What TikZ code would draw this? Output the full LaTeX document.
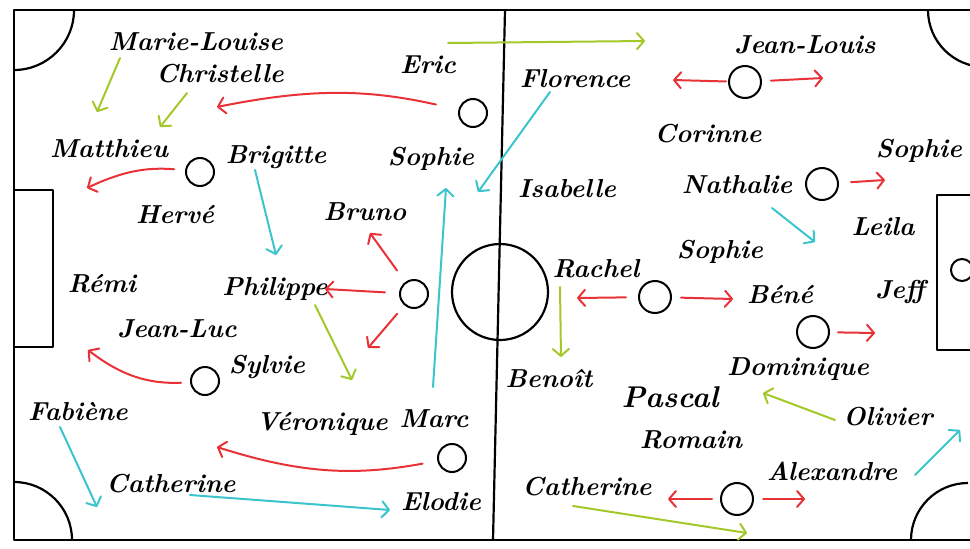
\documentclass[tikz,border=0pt]{standalone}
\usepackage{fontspec}
\usepackage{xcolor}
\usetikzlibrary{arrows.meta}

\definecolor{passred}{RGB}{232,50,56}
\definecolor{passgreen}{RGB}{163,200,42}
\definecolor{passcyan}{RGB}{58,196,204}

\begin{document}
\begin{tikzpicture}[
  x=1pt, y=-1pt,
  kid/.style={anchor=base, inner sep=0pt, font=\fontsize{26}{30}\selectfont\bfseries\itshape},
  player/.style={draw, circle, line width=2pt, minimum size=28pt, inner sep=0pt},
  bigplayer/.style={player, minimum size=32pt},
  pitch/.style={line width=2.2pt, line join=round},
  arr/.style={line width=2pt, line cap=round,
              -{Straight Barb[round, length=7pt, width=16pt]}},
  rarr/.style={arr, passred},
  garr/.style={arr, passgreen},
  carr/.style={arr, passcyan}
]
\useasboundingbox (0,0) rectangle (970,549);
\clip (0,0) rectangle (970,549);

\draw[pitch] (14,10) rectangle (995,540);
\draw[pitch] (505,10) -- (493,540);
\draw[pitch] (500,292) circle[radius=48];
\draw[pitch] (14,190) -- (53,190) -- (53,347) -- (14,347);
\draw[pitch] (995,195) -- (937,195) -- (937,350) -- (995,350);
\draw[pitch] (74,10) arc[start angle=0, end angle=90, radius=60];
\draw[pitch] (14,482) arc[start angle=-90, end angle=0, radius=58];
\draw[pitch] (928,10) arc[start angle=180, end angle=90, radius=57];
\draw[pitch] (911,540) arc[start angle=180, end angle=270, radius=57];

\node[kid] (marielouise) at (196,50) {Marie-Louise};
\node[kid] (christelle) at (220,82) {Christelle};
\node[kid] (eric) at (428,73) {Eric};
\node[kid] (matthieu) at (109,157) {Matthieu};
\node[kid] (brigitte) at (276,163) {Brigitte};
\node[kid] (sophie1) at (431,165) {Sophie};
\node[kid] (herve) at (175,223) {Hervé};
\node[kid] (bruno) at (365,220) {Bruno};
\node[kid] (remi) at (102,292) {Rémi};
\node[kid] (philippe) at (275,295) {Philippe};
\node[kid] (jeanluc) at (177,337) {Jean-Luc};
\node[kid] (sylvie) at (267,373) {Sylvie};
\node[kid] (fabiene) at (78,420) {Fabiène};
\node[kid] (veronique) at (322,430) {Véronique};
\node[kid] (marc) at (434,427) {Marc};
\node[kid] (catherine1) at (171,492) {Catherine};
\node[kid] (elodie) at (441,510) {Elodie};

\node[kid] (jeanlouis) at (805,53) {Jean-Louis};
\node[kid] (florence) at (575,87) {Florence};
\node[kid] (corinne) at (708,142) {Corinne};
\node[kid] (sophie2) at (919,157) {Sophie};
\node[kid] (isabelle) at (567,197) {Isabelle};
\node[kid] (nathalie) at (737,193) {Nathalie};
\node[kid] (leila) at (883,235) {Leila};
\node[kid] (sophie3) at (720,258) {Sophie};
\node[kid] (rachel) at (596,277) {Rachel};
\node[kid] (bene) at (780,303) {Béné};
\node[kid] (jeff) at (900,298) {Jeff};
\node[kid] (benoit) at (549,387) {Benoît};
\node[kid] (dominique) at (798,375) {Dominique};
\node[kid, font=\fontsize{30}{34}\selectfont\bfseries\itshape] (pascal) at (670,407) {Pascal};
\node[kid] (olivier) at (888,425) {Olivier};
\node[kid] (romain) at (691,448) {Romain};
\node[kid] (alexandre) at (832,480) {Alexandre};
\node[kid] (catherine2) at (587,495) {Catherine};

\node[player] (o-eric) at (473,113) {};
\node[player] (o-herve) at (200,172) {};
\node[player] (o-philippe) at (414,294) {};
\node[player] (o-sylvie) at (205,381) {};
\node[player] (o-marc) at (452,458) {};
\node[bigplayer] (o-jeanlouis) at (745,82) {};
\node[bigplayer] (o-nathalie) at (822,184) {};
\node[bigplayer] (o-rachel) at (655,297) {};
\node[bigplayer] (o-jeff) at (813,332) {};
\node[bigplayer] (o-alexandre) at (737,499) {};
\node[player, minimum size=22pt] (spot) at (962,270) {};

\coordinate (eric-end) at (217,107);
\coordinate (herve-end) at (87,188);
\coordinate (philippe-w) at (325,289);
\coordinate (philippe-nw) at (370,233);
\coordinate (philippe-sw) at (368,348);
\coordinate (sylvie-end) at (88,350);
\coordinate (marc-end) at (217,447);
\coordinate (jeanlouis-w) at (673,80);
\coordinate (jeanlouis-e) at (823,78);
\coordinate (nathalie-e) at (885,180);
\coordinate (rachel-w) at (577,298);
\coordinate (rachel-e) at (733,299);
\coordinate (jeff-e) at (875,333);
\coordinate (alexandre-w) at (668,499);
\coordinate (alexandre-e) at (805,499);

\coordinate (eric-a) at (448,43);
\coordinate (eric-b) at (645,41);
\coordinate (marielouise-a) at (120,58);
\coordinate (marielouise-b) at (97,112);
\coordinate (christelle-a) at (187,93);
\coordinate (christelle-b) at (160,127);
\coordinate (philippe-a) at (315,305);
\coordinate (philippe-b) at (352,380);
\coordinate (rachel-a) at (560,287);
\coordinate (rachel-b) at (561,357);
\coordinate (olivier-a) at (835,420);
\coordinate (olivier-b) at (763,393);
\coordinate (catherine2-a) at (573,506);
\coordinate (catherine2-b) at (747,533);

\coordinate (brigitte-a) at (255,170);
\coordinate (brigitte-b) at (276,255);
\coordinate (marc-a) at (433,387);
\coordinate (marc-b) at (446,188);
\coordinate (florence-a) at (550,92);
\coordinate (florence-b) at (478,192);
\coordinate (fabiene-a) at (60,427);
\coordinate (fabiene-b) at (97,507);
\coordinate (catherine1-a) at (190,495);
\coordinate (catherine1-b) at (390,510);
\coordinate (nathalie-a) at (772,208);
\coordinate (nathalie-b) at (815,242);
\coordinate (alexandre-a) at (915,475);
\coordinate (alexandre-b) at (960,430);

\draw[rarr, shorten <=23pt] (o-eric) to[bend right=12] (eric-end);
\draw[rarr, shorten <=11pt] (o-herve) to[bend right=15] (herve-end);
\draw[rarr, shorten <=14pt] (o-philippe) -- (philippe-w);
\draw[rarr, shorten <=14pt] (o-philippe) -- (philippe-nw);
\draw[rarr, shorten <=11pt] (o-philippe) -- (philippe-sw);
\draw[rarr, shorten <=9pt] (o-sylvie) to[bend left=20] (sylvie-end);
\draw[rarr, shorten <=15pt] (o-marc) to[bend left=14] (marc-end);
\draw[rarr, shorten <=2pt] (o-jeanlouis) -- (jeanlouis-w);
\draw[rarr, shorten <=9pt] (o-jeanlouis) -- (jeanlouis-e);
\draw[rarr, shorten <=12pt] (o-nathalie) -- (nathalie-e);
\draw[rarr, shorten <=12pt] (o-rachel) -- (rachel-w);
\draw[rarr, shorten <=9pt] (o-rachel) -- (rachel-e);
\draw[rarr, shorten <=8pt] (o-jeff) -- (jeff-e);
\draw[rarr, shorten <=8pt] (o-alexandre) -- (alexandre-w);
\draw[rarr, shorten <=9pt] (o-alexandre) -- (alexandre-e);

\draw[garr] (eric-a) -- (eric-b);
\draw[garr] (marielouise-a) -- (marielouise-b);
\draw[garr] (christelle-a) -- (christelle-b);
\draw[garr] (philippe-a) -- (philippe-b);
\draw[garr] (rachel-a) -- (rachel-b);
\draw[garr] (olivier-a) -- (olivier-b);
\draw[garr] (catherine2-a) -- (catherine2-b);

\draw[carr] (brigitte-a) -- (brigitte-b);
\draw[carr] (marc-a) -- (marc-b);
\draw[carr] (florence-a) -- (florence-b);
\draw[carr] (fabiene-a) -- (fabiene-b);
\draw[carr] (catherine1-a) -- (catherine1-b);
\draw[carr] (nathalie-a) -- (nathalie-b);
\draw[carr] (alexandre-a) -- (alexandre-b);
\end{tikzpicture}
\end{document}
